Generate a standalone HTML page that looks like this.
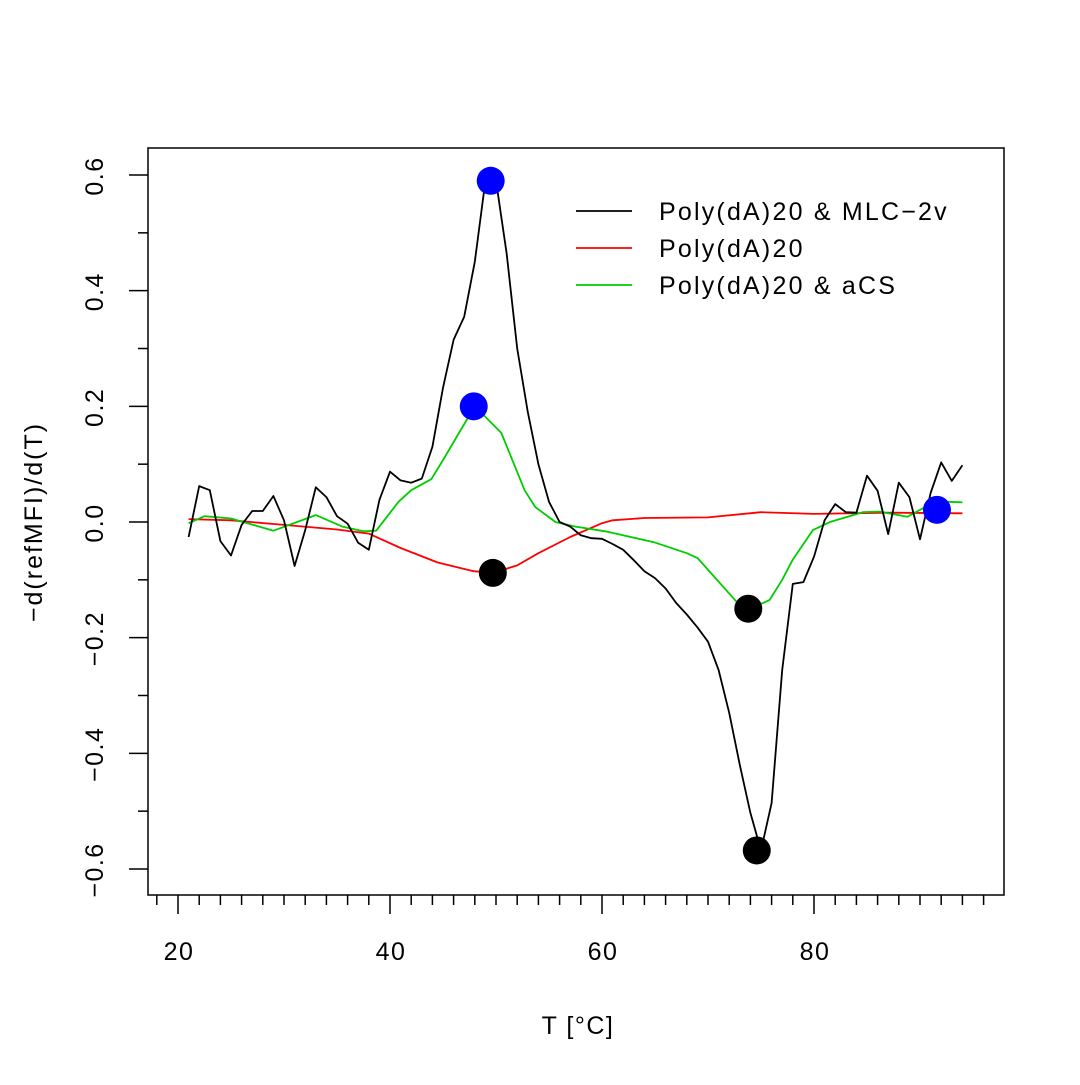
<!DOCTYPE html>
<html><head><meta charset="utf-8"><style>
html,body{margin:0;padding:0;background:#fff}
svg text{font-family:"Liberation Sans",Arial,sans-serif;fill:#000}
</style></head><body>
<svg id="chart" width="1080" height="1080" viewBox="0 0 1080 1080" xmlns="http://www.w3.org/2000/svg">
<rect x="0" y="0" width="1080" height="1080" fill="#fff"/>
<g id="marks"></g>
<rect x="148" y="148" width="856" height="747" fill="none" stroke="#000" stroke-width="1.5"/>
<g id="axes"></g>
<text x="578" y="1034" font-size="25" letter-spacing="1.5" text-anchor="middle">T [°C]</text>
<text transform="translate(42,522) rotate(-90)" font-size="25" letter-spacing="2" text-anchor="middle">−d(refMFI)/d(T)</text>
<g>
<line x1="576" y1="211" x2="632" y2="211" stroke="#000" stroke-width="1.8"/>
<text x="659" y="220" font-size="25" letter-spacing="2.2">Poly(dA)20 &amp; MLC−2v</text>
<line x1="576" y1="248" x2="632" y2="248" stroke="#ff0000" stroke-width="1.8"/>
<text x="659" y="257" font-size="25" letter-spacing="2.2">Poly(dA)20</text>
<line x1="576" y1="285" x2="632" y2="285" stroke="#00cd00" stroke-width="1.8"/>
<text x="659" y="294" font-size="25" letter-spacing="2.2">Poly(dA)20 &amp; aCS</text>
</g>
</svg>
<script>
const blackT = [21,22,23,24,25,26,27,28,29,30,31,32,33,34,35,36,37,38,39,40,41,42,43,44,45,46,47,48,49,50,51,52,53,54,55,56,57,58,59,60,61,62,63,64,65,66,67,68,69,70,71,72,73,74,75,76,77,78,79,80,81,82,83,84,85,86,87,88,89,90,91,92,93,94];
const blackV = [-0.026,0.062,0.055,-0.033,-0.058,-0.005,0.019,0.019,0.045,0.003,-0.076,-0.014,0.06,0.043,0.01,-0.003,-0.036,-0.048,0.038,0.087,0.072,0.068,0.075,0.13,0.232,0.315,0.355,0.45,0.59,0.59,0.465,0.3,0.19,0.1,0.035,0.0,-0.008,-0.023,-0.028,-0.029,-0.038,-0.048,-0.066,-0.085,-0.097,-0.115,-0.14,-0.16,-0.182,-0.207,-0.256,-0.33,-0.42,-0.503,-0.568,-0.486,-0.256,-0.107,-0.104,-0.06,0.003,0.031,0.017,0.016,0.08,0.054,-0.021,0.068,0.043,-0.03,0.05,0.103,0.071,0.098];
const redT = [21,25,30,35,38,41,44.5,47.9,49.7,52,54,57,60,61,64,70,75,80,87,94];
const redV = [0.005,0.003,-0.005,-0.013,-0.02,-0.045,-0.07,-0.085,-0.088,-0.075,-0.054,-0.026,-0.002,0.003,0.007,0.008,0.017,0.014,0.016,0.015];
const greenT = [21,22.5,25,29,33,35.5,37.5,38.7,40.8,42,43.9,45,46.7,48,50.5,52.7,53.7,55.6,57.5,60.3,64.9,68,69,72.7,74,75.8,77,78,79.9,81.5,84.6,86.2,88.8,90.5,92.7,94];
const greenV = [-0.002,0.01,0.006,-0.015,0.012,-0.008,-0.016,-0.015,0.035,0.055,0.074,0.107,0.16,0.2,0.154,0.055,0.026,0.0,-0.008,-0.016,-0.035,-0.054,-0.062,-0.138,-0.15,-0.135,-0.1,-0.065,-0.014,0.0,0.017,0.018,0.009,0.026,0.035,0.034];
const peakT = [49.5,47.9,91.6];
const peakV = [0.59,0.2,0.021];
const troughT = [49.7,73.8,74.6];
const troughV = [-0.088,-0.15,-0.568];
const xMajor = [20,40,60,80];
const yMajor = [-0.6,-0.4,-0.2,0.0,0.2,0.4,0.6];
const yMajorLabels = ["−0.6","−0.4","−0.2","0.0","0.2","0.4","0.6"];

const NS = "http://www.w3.org/2000/svg";
function xs(t){ return 178 + (t - 20) * 10.6; }
function ys(v){ return 522 - v * 578.3; }
const marks = document.getElementById('marks');
const axes = document.getElementById('axes');

function mk(tag, attrs, parent){
  const e = document.createElementNS(NS, tag);
  for (const k in attrs) e.setAttribute(k, attrs[k]);
  parent.appendChild(e);
  return e;
}
function series(T, V, color, name){
  const pts = T.map((t,i)=> xs(t).toFixed(1)+','+ys(V[i]).toFixed(1)).join(' ');
  const pl = mk('polyline', {points: pts, fill:'none', stroke: color, 'stroke-width': 1.8, 'stroke-linejoin':'round'}, marks);
  
  
}
series(redT, redV, '#ff0000', 'series-polyda20');
series(greenT, greenV, '#00cd00', 'series-polyda20-acs');
series(blackT, blackV, '#000000', 'series-polyda20-mlc2v');
peakT.forEach((t,i)=>{
  const c = mk('circle', {cx: xs(t), cy: ys(peakV[i]), r: 14, fill:'#0000ff'}, marks);
  
  
});
troughT.forEach((t,i)=>{
  const c = mk('circle', {cx: xs(t), cy: ys(troughV[i]), r: 14, fill:'#000000'}, marks);
  
  
});
for (let t = 18; t <= 96; t += 2){
  const major = xMajor.indexOf(t) >= 0;
  const l = mk('line', {x1: xs(t), x2: xs(t), y1: 895, y2: major ? 914 : 905, stroke:'#000', 'stroke-width':1.5}, axes);
  
  
}
xMajor.forEach(t=>{
  const tx = mk('text', {x: xs(t) + 1, y: 960, 'font-size': 25, 'letter-spacing': 1.5, 'text-anchor':'middle'}, axes);
  tx.textContent = String(t);
  
  
});
for (let k = -6; k <= 6; k++){
  const v = k / 10;
  const major = (k % 2 === 0);
  const l = mk('line', {x1: 148, x2: major ? 129 : 138, y1: ys(v), y2: ys(v), stroke:'#000', 'stroke-width':1.5}, axes);
  
  
}
yMajor.forEach((v,i)=>{
  const tx = mk('text', {transform: 'translate(103,'+(ys(v)+1)+') rotate(-90)', 'font-size': 25, 'letter-spacing': 1.5, 'text-anchor':'middle'}, axes);
  tx.textContent = yMajorLabels[i];
  
  
});
</script>
</body></html>
